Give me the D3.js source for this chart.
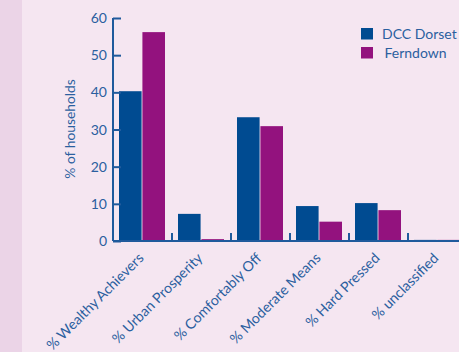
<!DOCTYPE html>
<html><head><meta charset="utf-8">
<script src="https://cdn.jsdelivr.net/npm/d3@7"></script>
<style>html,body{margin:0;padding:0;}svg{display:block;}</style>
</head><body>
<script>
const categories = ["% Wealthy Achievers","% Urban Prosperity","% Comfortably Off","% Moderate Means","% Hard Pressed","% unclassified"];
const seriesNames = ["DCC Dorset","Ferndown"];
const dccDorset = [40.3, 7.3, 33.3, 9.4, 10.2, 0.3];
const ferndown = [56.2, 0.5, 30.9, 5.2, 8.3, 0.3];
const yTicks = [0,10,20,30,40,50,60];
const colors = ["#004b91","#93127e"];

const W=459,H=352;
const svg=d3.select("body").append("svg").attr("width",W).attr("height",H);
svg.append("rect").attr("width",W).attr("height",H).attr("fill","#f5e6f1");
svg.append("rect").attr("width",22).attr("height",H).attr("fill","#ebd4e7");

const font="Lato, 'Open Sans', sans-serif";
const textCol="#2b5f9f";
const axisCol="#1f5a9c";

const x0=113, bandW=59;
const x=d3.scaleBand().domain(categories).range([x0,x0+bandW*categories.length]).paddingInner(0).paddingOuter(0);
const y=d3.scaleLinear().domain([0,60]).range([241,18]);
const inner=d3.scaleBand().domain(seriesNames).range([6,bandW-7]).paddingInner(0.035);

const data=categories.map((c,i)=>({c,vals:[dccDorset[i],ferndown[i]]}));
const g=svg.append("g");
data.forEach(d=>{
  d.vals.forEach((v,j)=>{
    g.append("rect").attr("x",x(d.c)+inner(seriesNames[j])).attr("width",inner.bandwidth())
     .attr("y",y(v)).attr("height",y(0)-y(v)).attr("fill",colors[j]);
  });
});

// y axis
const yAxis=d3.axisRight(y).tickValues(yTicks).tickSize(8).tickFormat("");
const ya=svg.append("g").attr("transform",`translate(${x0},0)`).call(yAxis);
ya.select(".domain").attr("stroke",axisCol).attr("stroke-width",2).attr("d",`M0,${y(60)}V${y(0)}`);
ya.selectAll(".tick line").attr("stroke",axisCol).attr("stroke-width",2);
svg.append("g").selectAll("text").data(yTicks).join("text")
  .attr("x",107).attr("y",d=>y(d)).attr("dy","0.36em").attr("text-anchor","end")
  .attr("font-family",font).attr("font-size",14).attr("fill",textCol).text(d=>d);

// x axis
const xa=svg.append("g").attr("transform",`translate(0,${y(0)})`);
xa.append("line").attr("x1",x0).attr("x2",W).attr("stroke",axisCol).attr("stroke-width",2);
xa.selectAll("line.t").data(categories.slice(1)).join("line").attr("class","t")
  .attr("x1",d=>x(d)).attr("x2",d=>x(d)).attr("y1",0).attr("y2",-8).attr("stroke",axisCol).attr("stroke-width",2);
xa.selectAll("text").data(categories).join("text")
  .attr("transform",d=>`translate(${x(d)+x.bandwidth()/2+2},${18}) rotate(-45)`)
  .attr("text-anchor","end").attr("font-family",font).attr("font-size",14.2).attr("fill",textCol).text(d=>d);

// y label
svg.append("text").attr("transform","translate(75,129) rotate(-90)").attr("text-anchor","middle")
  .attr("font-family",font).attr("font-size",13.8).attr("fill",textCol).text("% of households");

// legend
const lg=svg.append("g");
seriesNames.forEach((s,i)=>{
  lg.append("rect").attr("x",361).attr("y",28+i*19).attr("width",12).attr("height",11.5).attr("fill",colors[i]);
  lg.append("text").attr("x",i===0?382:384.5).attr("y",34+i*19).attr("dy","0.36em")
    .attr("font-family",font).attr("font-size",14).attr("fill",textCol).text(s);
});
</script>
</body></html>
